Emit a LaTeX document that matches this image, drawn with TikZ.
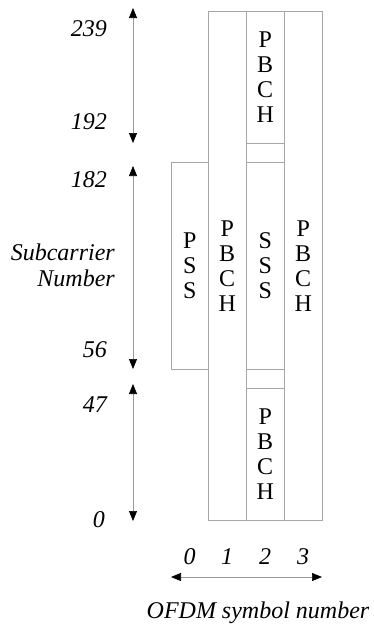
\documentclass[tikz,border=0pt]{standalone}
\usepackage{fontspec}
\setmainfont{Liberation Serif}
\usetikzlibrary{arrows.meta}

\tikzset{
  slot/.style={draw=gray!70, rectangle, inner sep=0pt, anchor=north west, align=center,
    minimum width=38pt, font=\fontsize{24}{25}\selectfont},
  axislbl/.style={font=\fontsize{24}{26}\selectfont\itshape, inner sep=0pt},
  axisarrow/.style={draw=gray!80, line width=0.6pt,
    {Triangle[length=10pt,width=8pt,color=black]}-{Triangle[length=10pt,width=8pt,color=black]}},
}

\begin{document}
\begin{tikzpicture}[x=1pt, y=-1pt]
    \useasboundingbox (0,0) rectangle (373,625);

    % Boxes
    \node[slot, minimum width=37pt, minimum height=207pt] (pss) at (171,162) {P\\S\\S};
    \node[slot, minimum height=509pt] (pbchone) at (208,11) {P\\B\\C\\H};
    \node[slot, minimum height=132pt] (pbchtop) at (246,11) {P\\B\\C\\H};
    \node[slot, minimum height=19pt] (gaptop) at (246,143) {};
    \node[slot, minimum height=207pt] (sss) at (246,162) {S\\S\\S};
    \node[slot, minimum height=19pt] (gapbot) at (246,369) {};
    \node[slot, minimum height=132pt] (pbchbot) at (246,388) {P\\B\\C\\H};
    \node[slot, minimum height=509pt] (pbchthree) at (284,11) {P\\B\\C\\H};

    % Subcarrier labels
    \node[axislbl, anchor=east] (n239) at (107,29) {239};
    \node[axislbl, anchor=east] (n192) at (107,122) {192};
    \node[axislbl, anchor=east] (n182) at (107,180) {182};
    \node[axislbl, anchor=east, align=right] (subc) at (115,265) {Subcarrier\\Number};
    \node[axislbl, anchor=east] (n56) at (107,350) {56};
    \node[axislbl, anchor=east] (n47) at (107,405) {47};
    \node[axislbl, anchor=east] (n0) at (105,520) {0};

    % Symbol labels
    \foreach \s/\x in {0/189.5, 1/227, 2/265, 3/303}
        \node[axislbl] (sym\s) at (\x,557) {\s};
    \node[axislbl] (ofdm) at (258,613) {OFDM symbol number};

    % Arrow ends
    \coordinate (atop) at (133,8);
    \coordinate (abot) at (133,143);
    \coordinate (btop) at (133,166);
    \coordinate (bbot) at (133,369);
    \coordinate (ctop) at (133,384);
    \coordinate (cbot) at (133,521);
    \coordinate (hleft) at (171,577);
    \coordinate (hright) at (322,577);

    % Arrows
    \draw[axisarrow] (atop) -- (abot);
    \draw[axisarrow] (btop) -- (bbot);
    \draw[axisarrow] (ctop) -- (cbot);
    \draw[axisarrow] (hleft) -- (hright);
\end{tikzpicture}
\end{document}
